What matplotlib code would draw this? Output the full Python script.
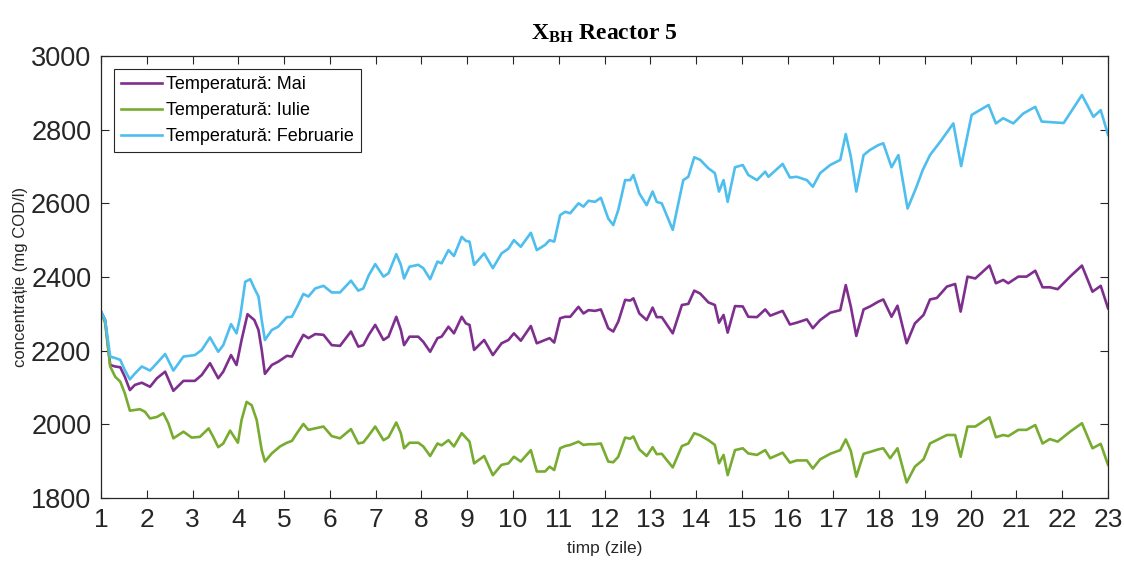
import matplotlib
matplotlib.use("Agg")
import matplotlib.pyplot as plt

plt.rcParams["mathtext.fontset"] = "custom"
plt.rcParams["mathtext.bf"] = "Liberation Serif:bold"
plt.rcParams["mathtext.rm"] = "Liberation Serif"

# Readings taken from the chart (time in days, X_BH in mg COD/l)
t_mai = [1.00, 1.09, 1.20, 1.31, 1.42, 1.52, 1.63, 1.74, 1.89, 2.07, 2.22, 2.40, 2.58, 2.80,
         3.05, 3.20, 3.38, 3.56, 3.67, 3.84, 3.96, 4.07, 4.20, 4.35, 4.44, 4.51, 4.58, 4.73,
         4.87, 5.06, 5.17, 5.28, 5.42, 5.53, 5.68, 5.86, 6.04, 6.22, 6.46, 6.62, 6.73, 6.85,
         6.99, 7.17, 7.28, 7.45, 7.55, 7.62, 7.74, 7.93, 8.04, 8.19, 8.35, 8.44, 8.59, 8.71,
         8.88, 8.97, 9.05, 9.15, 9.37, 9.56, 9.75, 9.90, 10.02, 10.17, 10.39, 10.52, 10.70,
         10.80, 10.90, 11.03, 11.14, 11.25, 11.43, 11.54, 11.65, 11.79, 11.92, 12.08, 12.19,
         12.30, 12.45, 12.56, 12.63, 12.76, 12.92, 13.05, 13.14, 13.25, 13.49, 13.69, 13.83,
         13.96, 14.09, 14.27, 14.41, 14.50, 14.60, 14.69, 14.85, 15.02, 15.14, 15.33, 15.51,
         15.62, 15.89, 16.05, 16.20, 16.42, 16.55, 16.71, 16.93, 17.15, 17.27, 17.38, 17.50,
         17.66, 17.80, 17.98, 18.09, 18.27, 18.40, 18.60, 18.78, 18.97, 19.11, 19.26, 19.48,
         19.66, 19.78, 19.93, 20.10, 20.41, 20.55, 20.71, 20.82, 21.04, 21.22, 21.41, 21.57,
         21.73, 21.90, 22.17, 22.43, 22.66, 22.84, 23.00]
mai = [2306, 2283, 2161, 2157, 2155, 2129, 2093, 2107, 2113, 2102, 2125, 2143, 2091, 2118,
       2118, 2134, 2166, 2125, 2143, 2188, 2161, 2229, 2299, 2283, 2256, 2202, 2137, 2161,
       2170, 2186, 2184, 2211, 2243, 2234, 2245, 2243, 2215, 2213, 2252, 2211, 2215, 2243,
       2270, 2229, 2238, 2292, 2256, 2215, 2238, 2238, 2224, 2197, 2234, 2238, 2265, 2247,
       2292, 2274, 2270, 2202, 2229, 2188, 2220, 2229, 2247, 2227, 2267, 2220, 2229,
       2234, 2222, 2288, 2292, 2292, 2319, 2301, 2310, 2308, 2312, 2261, 2252,
       2279, 2338, 2336, 2342, 2301, 2283, 2317, 2291, 2291, 2247, 2324, 2327,
       2363, 2355, 2331, 2324, 2276, 2297, 2249, 2321, 2320, 2292, 2291, 2312,
       2295, 2308, 2271, 2276, 2285, 2261, 2283, 2303, 2310, 2378, 2320, 2240,
       2312, 2320, 2333, 2339, 2292, 2322, 2220, 2274, 2297, 2339, 2343, 2374,
       2381, 2306, 2401, 2396, 2431, 2383, 2392, 2383, 2401, 2401, 2417, 2372,
       2372, 2367, 2401, 2431, 2360, 2376, 2315]

t_iulie = [1.00, 1.09, 1.20, 1.31, 1.42, 1.52, 1.63, 1.74, 1.85, 1.96, 2.07, 2.22, 2.36, 2.47,
           2.58, 2.80, 2.98, 3.16, 3.35, 3.45, 3.56, 3.67, 3.82, 3.99, 4.07, 4.18, 4.29, 4.40,
           4.51, 4.58, 4.73, 4.91, 5.06, 5.17, 5.28, 5.42, 5.53, 5.68, 5.86, 6.04, 6.22, 6.46,
           6.62, 6.73, 6.85, 6.99, 7.17, 7.28, 7.45, 7.55, 7.62, 7.74, 7.93, 8.04, 8.19, 8.35,
           8.44, 8.59, 8.71, 8.88, 8.97, 9.05, 9.15, 9.37, 9.56, 9.75, 9.90, 10.02, 10.17,
           10.39, 10.52, 10.70, 10.80, 10.90, 11.03, 11.14, 11.25, 11.43, 11.54, 11.65, 11.79,
           11.92, 12.08, 12.19, 12.30, 12.45, 12.56, 12.63, 12.76, 12.92, 13.05, 13.14, 13.25,
           13.49, 13.69, 13.83, 13.96, 14.09, 14.27, 14.41, 14.50, 14.60, 14.69, 14.85, 15.02,
           15.14, 15.33, 15.51, 15.62, 15.89, 16.05, 16.20, 16.42, 16.55, 16.71, 16.93, 17.15,
           17.27, 17.38, 17.50, 17.66, 17.80, 17.98, 18.09, 18.24, 18.40, 18.60, 18.78, 18.97,
           19.11, 19.48, 19.66, 19.78, 19.93, 20.10, 20.41, 20.55, 20.71, 20.82, 21.04, 21.22,
           21.41, 21.57, 21.73, 21.90, 22.17, 22.43, 22.66, 22.84, 23.00]
iulie = [2306, 2274, 2157, 2129, 2116, 2084, 2037, 2039, 2041, 2034, 2016, 2020, 2030, 2003,
         1962, 1980, 1964, 1966, 1989, 1966, 1938, 1948, 1983, 1950, 2012, 2061, 2052, 2012,
         1930, 1899, 1921, 1940, 1950, 1955, 1976, 2001, 1985, 1989, 1994, 1968, 1962, 1987,
         1948, 1951, 1970, 1994, 1957, 1965, 2005, 1976, 1935, 1950, 1950, 1940, 1914, 1948,
         1943, 1957, 1940, 1976, 1964, 1953, 1894, 1914, 1862, 1890, 1894, 1912, 1899,
         1930, 1872, 1872, 1885, 1876, 1935, 1941, 1944, 1953, 1944, 1946, 1946,
         1948, 1899, 1897, 1912, 1964, 1961, 1967, 1932, 1914, 1938, 1919, 1920,
         1883, 1941, 1948, 1976, 1970, 1957, 1944, 1894, 1917, 1862, 1930, 1935,
         1921, 1917, 1930, 1908, 1923, 1896, 1902, 1902, 1880, 1905, 1920, 1930,
         1959, 1928, 1858, 1920, 1925, 1932, 1935, 1908, 1935, 1842, 1885, 1905,
         1948, 1971, 1971, 1912, 1994, 1994, 2019, 1965, 1971, 1968, 1985, 1985,
         1998, 1948, 1960, 1953, 1980, 2003, 1935, 1947, 1890]

t_feb = [1.00, 1.09, 1.20, 1.31, 1.42, 1.52, 1.63, 1.74, 1.89, 2.07, 2.22, 2.40, 2.58, 2.80,
         3.05, 3.20, 3.38, 3.56, 3.67, 3.84, 3.96, 4.04, 4.15, 4.26, 4.35, 4.44, 4.51, 4.58,
         4.73, 4.87, 5.06, 5.17, 5.28, 5.42, 5.53, 5.68, 5.86, 6.04, 6.22, 6.46, 6.62, 6.73,
         6.85, 6.99, 7.17, 7.28, 7.45, 7.55, 7.62, 7.74, 7.93, 8.04, 8.19, 8.35, 8.44, 8.59,
         8.71, 8.88, 8.97, 9.05, 9.15, 9.37, 9.56, 9.75, 9.90, 10.02, 10.17, 10.39, 10.52,
         10.70, 10.80, 10.90, 11.03, 11.14, 11.25, 11.43, 11.54, 11.65, 11.79, 11.92, 12.08,
         12.19, 12.30, 12.45, 12.56, 12.63, 12.76, 12.92, 13.05, 13.14, 13.25, 13.49, 13.72,
         13.83, 13.96, 14.09, 14.27, 14.41, 14.50, 14.60, 14.69, 14.85, 15.02, 15.14, 15.33,
         15.51, 15.58, 15.89, 16.05, 16.20, 16.42, 16.55, 16.71, 16.93, 17.15, 17.27, 17.38,
         17.50, 17.66, 17.80, 17.98, 18.09, 18.27, 18.42, 18.62, 18.80, 18.95, 19.11, 19.35,
         19.62, 19.79, 20.02, 20.39, 20.55, 20.71, 20.93, 21.15, 21.41, 21.55, 22.03, 22.43,
         22.68, 22.84, 23.00]
feb = [2306, 2283, 2184, 2180, 2175, 2147, 2122, 2138, 2157, 2146, 2166, 2191, 2146, 2184,
       2188, 2202, 2236, 2197, 2215, 2272, 2247, 2292, 2387, 2394, 2369, 2347, 2283, 2229,
       2256, 2265, 2291, 2292, 2318, 2354, 2347, 2369, 2376, 2358, 2358, 2390, 2363, 2369,
       2405, 2435, 2401, 2410, 2462, 2433, 2396, 2428, 2433, 2424, 2394, 2442, 2437, 2473,
       2457, 2509, 2498, 2496, 2433, 2464, 2424, 2464, 2477, 2500, 2482, 2520, 2473,
       2487, 2500, 2496, 2568, 2577, 2573, 2600, 2591, 2607, 2604, 2615, 2559,
       2541, 2582, 2663, 2663, 2677, 2627, 2595, 2632, 2604, 2600, 2528, 2663,
       2672, 2725, 2718, 2695, 2682, 2632, 2663, 2604, 2698, 2704, 2677, 2663,
       2686, 2672, 2707, 2670, 2672, 2663, 2645, 2682, 2704, 2718, 2788, 2727,
       2632, 2731, 2745, 2758, 2763, 2698, 2731, 2586, 2640, 2690, 2731, 2770,
       2817, 2701, 2840, 2867, 2817, 2831, 2817, 2844, 2862, 2822, 2818, 2894,
       2835, 2853, 2786]

labels = ["Temperatură: Mai", "Temperatură: Iulie", "Temperatură: Februarie"]
colors = ["#7E2F8E", "#77AC30", "#4DBEEE"]
x_ticks = list(range(1, 24))
y_ticks = [1800, 2000, 2200, 2400, 2600, 2800, 3000]

narrow = ["Liberation Sans Narrow", "Liberation Sans", "DejaVu Sans"]

fig = plt.figure(figsize=(11.24, 5.61), dpi=100)
ax = fig.add_axes([0.0899, 0.1123, 0.8959, 0.7879])

ax.plot(t_mai, mai, color=colors[0], lw=1.9, label=labels[0], solid_joinstyle="round")
ax.plot(t_iulie, iulie, color=colors[1], lw=1.9, label=labels[1], solid_joinstyle="round")
ax.plot(t_feb, feb, color=colors[2], lw=1.9, label=labels[2], solid_joinstyle="round")

ax.set_xlim(1, 23)
ax.set_ylim(1800, 3000)
ax.set_xticks(x_ticks)
ax.set_yticks(y_ticks)
ax.tick_params(direction="in", top=True, right=True, length=6, width=0.8,
               color="#262626", pad=7)
for lab in ax.get_xticklabels():
    lab.set_family(narrow)
    lab.set_fontsize(19)
    lab.set_color("#262626")
for lab in ax.get_yticklabels():
    lab.set_family(narrow)
    lab.set_fontsize(19.5)
    lab.set_color("#262626")
for s in ax.spines.values():
    s.set_color("#262626")
    s.set_linewidth(0.9)

ax.set_xlabel("timp (zile)", family=narrow, fontsize=12.5, color="#262626", labelpad=7)
ax.set_ylabel("concentrație (mg COD/l)", family=["Liberation Sans", "DejaVu Sans"],
              fontsize=12, color="#262626", labelpad=2)

ax.set_title(r"$\mathbf{X_{BH}}$ Reactor 5", family="Liberation Serif",
             fontweight="bold", fontsize=17, pad=12)

leg = ax.legend(loc="upper left", prop={"family": "Liberation Sans", "size": 13},
                frameon=True, fancybox=False, edgecolor="#262626", framealpha=1,
                borderpad=0.4, handlelength=2.3, handletextpad=0.2, labelspacing=0.5,
                borderaxespad=0.7)
leg.get_frame().set_linewidth(0.8)

fig.savefig("out.png", dpi=100)
